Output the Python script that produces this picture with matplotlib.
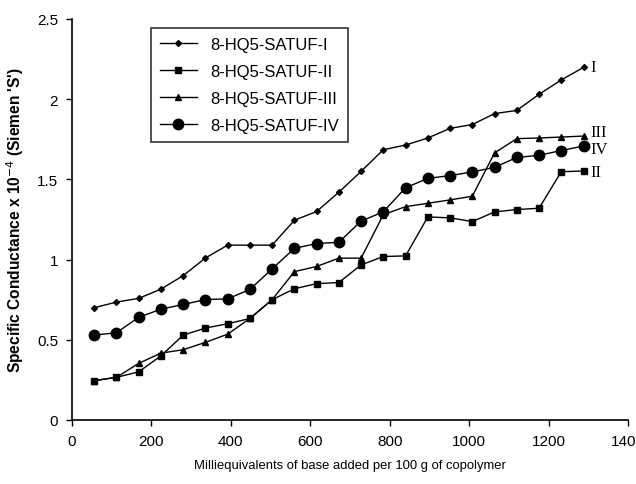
import numpy as np
import matplotlib
matplotlib.use('Agg')
import matplotlib.pyplot as plt

# Milliequivalents of base added per 100 g of copolymer
meq = [56, 112, 168, 224, 280, 336, 392, 448, 504, 560, 616, 672,
       728, 784, 840, 896, 952, 1008, 1064, 1120, 1176, 1232, 1288]

# Specific conductance x 10^-4 (S)
satuf_1 = [0.70, 0.735, 0.758, 0.816, 0.90, 1.01, 1.09, 1.09, 1.09, 1.245, 1.30, 1.42,
           1.55, 1.685, 1.714, 1.758, 1.818, 1.842, 1.91, 1.93, 2.03, 2.12, 2.198]
satuf_2 = [0.245, 0.266, 0.30, 0.40, 0.529, 0.573, 0.60, 0.633, 0.75, 0.818, 0.85, 0.857,
           0.967, 1.019, 1.023, 1.266, 1.26, 1.237, 1.297, 1.312, 1.32, 1.548, 1.552]
satuf_3 = [0.245, 0.266, 0.353, 0.417, 0.438, 0.484, 0.535, 0.633, 0.75, 0.925, 0.957, 1.009,
           1.009, 1.28, 1.33, 1.351, 1.372, 1.395, 1.665, 1.754, 1.758, 1.764, 1.77]
satuf_4 = [0.529, 0.544, 0.64, 0.691, 0.72, 0.751, 0.755, 0.814, 0.942, 1.07, 1.10, 1.108,
           1.24, 1.298, 1.448, 1.506, 1.524, 1.546, 1.575, 1.637, 1.65, 1.68, 1.708]

labels = ['8-HQ5-SATUF-I', '8-HQ5-SATUF-II', '8-HQ5-SATUF-III', '8-HQ5-SATUF-IV']
end_tags = ['I', 'II', 'III', 'IV']

plt.rcParams['font.family'] = ['Liberation Sans', 'DejaVu Sans']

fig = plt.figure(figsize=(6.36, 4.85), dpi=100)
ax = fig.add_axes([0.1132, 0.132, 0.8742, 0.8268])

series = [satuf_1, satuf_2, satuf_3, satuf_4]
markers = ['D', 's', '^', 'o']
msizes = [3, 4.5, 4.5, 7.5]
for y, lab, mk, ms in zip(series, labels, markers, msizes):
    ax.plot(meq, y, color='black', lw=1.0, marker=mk, ms=ms, label=lab)

# roman numeral tags at the end of each curve
tag_dy = [0, -1, 3, -2]
for y, tag, dy in zip(series, end_tags, tag_dy):
    ax.annotate(tag, (meq[-1], y[-1]), xytext=(5, dy), textcoords='offset points',
                va='center', ha='left', fontsize=12, family='Liberation Serif')

ax.set_xlim(0, 1400)
ax.set_ylim(0, 2.5)
ax.set_xticks(np.arange(0, 1401, 200))
ax.set_yticks([0, 0.5, 1, 1.5, 2, 2.5])
ax.set_yticklabels(['0', '0.5', '1', '1.5', '2', '2.5'])
ax.tick_params(direction='out', length=4, width=1, labelsize=11, pad=6)
ax.spines['top'].set_visible(False)
ax.spines['right'].set_visible(False)
ax.spines['left'].set_linewidth(1.2)
ax.spines['bottom'].set_linewidth(1.2)

ax.set_xlabel('Milliequivalents of base added per 100 g of copolymer', fontsize=9.4, labelpad=8)
ax.set_ylabel("Specific Conductance x 10$^{-4}$ (Siemen 'S')", fontsize=11.2,
              fontweight='bold', labelpad=8)

leg = ax.legend(loc='upper left', bbox_to_anchor=(0.142, 0.978), borderaxespad=0,
                fancybox=False, frameon=True, fontsize=12, handlelength=2.2,
                labelspacing=0.72, borderpad=0.55)
leg.get_frame().set_edgecolor('black')
leg.get_frame().set_linewidth(1.2)

plt.savefig('out.png', dpi=100)
